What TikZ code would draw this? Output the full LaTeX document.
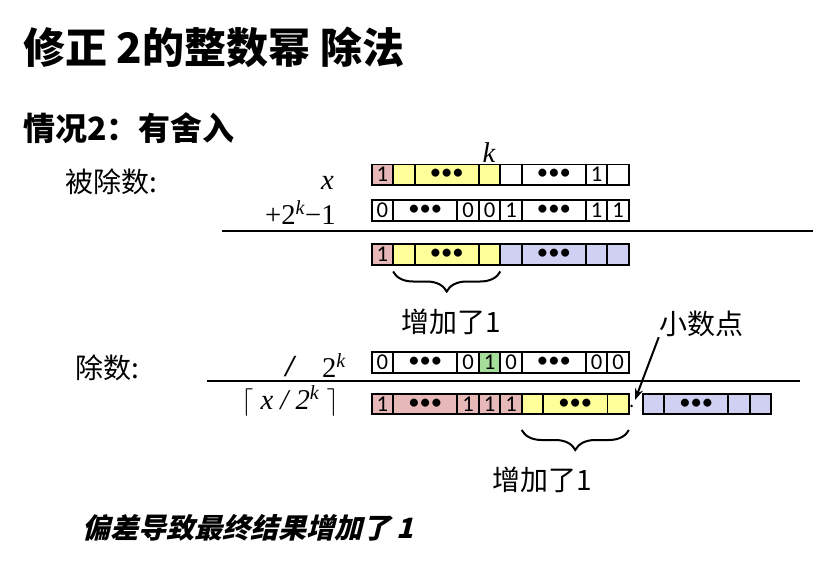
\documentclass[tikz,border=0pt]{standalone}
\usepackage{fontspec}
\usepackage{xcolor}
\usepackage{tikz}
\usetikzlibrary{arrows.meta}
\usetikzlibrary{decorations.pathreplacing}

\setmainfont{Noto Sans CJK SC}
\newfontfamily\tms{Liberation Serif}
\newfontfamily\cellfont{Carlito}
\newfontfamily\slantfont[BoldFeatures={FakeSlant=0.25}]{Noto Sans CJK SC}

\definecolor{cellpink}{RGB}{230,185,184}
\definecolor{cellyellow}{RGB}{255,255,153}
\definecolor{cellblue}{RGB}{208,208,242}
\definecolor{cellgreen}{RGB}{165,222,155}

\begin{document}
\begin{tikzpicture}[x=0.75pt,y=-0.75pt,>={Stealth[length=3mm,width=2.2mm]},
  cell/.style={draw,line width=1.4pt,inner sep=0pt,minimum height=15.4pt,minimum width=16.07pt,font=\cellfont\fontsize{17}{17}\selectfont},
  wide/.style={minimum width=48.2pt},
  lbl/.style={inner sep=0pt,font=\fontsize{21}{21}\selectfont},
  mth/.style={inner sep=0pt,font=\tms\fontsize{21.5}{21.5}\selectfont},
  rule/.style={line width=1.5pt},
  brc/.style={decorate,decoration={brace,mirror,amplitude=15pt},line width=1.5pt}]
  \useasboundingbox (0,0) rectangle (819,564);

  % headings
  \node[anchor=west,inner sep=0pt,font=\bfseries\fontsize{31.5}{31.5}\selectfont] (title) at (23,47) {修正 2的整数幂 除法};
  \node[anchor=west,inner sep=0pt,font=\bfseries\fontsize{24}{24}\selectfont] (case) at (23,128) {情况2：有舍入};

  % dividend
  \node[lbl,anchor=west] (dvd) at (65,182) {被除数:};
  \node[mth] (xx) at (327.5,183) {\itshape x};
  \node[mth,anchor=east] (addk) at (336,213) {+2\textsuperscript{\itshape k}−1};
  \node[mth] (kk) at (489,153) {\itshape k};

  \node[cell,fill=cellpink] (r1a) at (382.4,174.7) {1};
  \node[cell,fill=cellyellow] (r1b) at (403.9,174.7) {};
  \node[cell,wide,fill=cellyellow] (r1c) at (446.7,174.7) {•••};
  \node[cell,fill=cellyellow] (r1d) at (489.6,174.7) {};
  \node[cell] (r1e) at (511.0,174.7) {};
  \node[cell,wide] (r1f) at (553.9,174.7) {•••};
  \node[cell] (r1g) at (596.7,174.7) {1};
  \node[cell] (r1h) at (618.2,174.7) {};

  \node[cell] (r2a) at (382.4,210.5) {0};
  \node[cell,wide] (r2b) at (425.3,210.5) {•••};
  \node[cell] (r2c) at (468.1,210.5) {0};
  \node[cell] (r2d) at (489.6,210.5) {0};
  \node[cell] (r2e) at (511.0,210.5) {1};
  \node[cell,wide] (r2f) at (553.9,210.5) {•••};
  \node[cell] (r2g) at (596.7,210.5) {1};
  \node[cell] (r2h) at (618.2,210.5) {1};

  \draw[rule] (222,230.5) -- (813,230.5);

  \node[cell,fill=cellpink] (r3a) at (382.4,254.3) {1};
  \node[cell,fill=cellyellow] (r3b) at (403.9,254.3) {};
  \node[cell,wide,fill=cellyellow] (r3c) at (446.7,254.3) {•••};
  \node[cell,fill=cellyellow] (r3d) at (489.6,254.3) {};
  \node[cell,fill=cellblue] (r3e) at (511.0,254.3) {};
  \node[cell,wide,fill=cellblue] (r3f) at (553.9,254.3) {•••};
  \node[cell,fill=cellblue] (r3g) at (596.7,254.3) {};
  \node[cell,fill=cellblue] (r3h) at (618.2,254.3) {};

  \draw[brc] (393.1,271.5) -- (500.3,271.5);
  \node[lbl] (inc1) at (451,322) {增加了1};

  % divisor
  \node[lbl,anchor=west] (dvs) at (75,368) {除数:};
  \node[mth,font=\tms\bfseries\itshape\fontsize{23}{23}\selectfont] (slash) at (290,367) {/};
  \node[mth] (pk) at (334,366) {2\textsuperscript{\itshape k}};

  \node[cell] (r4a) at (382.4,362.5) {0};
  \node[cell,wide] (r4b) at (425.3,362.5) {•••};
  \node[cell] (r4c) at (468.1,362.5) {0};
  \node[cell,fill=cellgreen] (r4d) at (489.6,362.5) {1};
  \node[cell] (r4e) at (511.0,362.5) {0};
  \node[cell,wide] (r4f) at (553.9,362.5) {•••};
  \node[cell] (r4g) at (596.7,362.5) {0};
  \node[cell] (r4h) at (618.2,362.5) {0};

  \draw[rule] (207,380.5) -- (800,380.5);
  \node[mth] (ceil) at (290,401) {$\lceil$ \itshape x / 2\textsuperscript{k} $\rceil$};

  \node[cell,fill=cellpink] (r5a) at (382.4,404) {1};
  \node[cell,wide,fill=cellpink] (r5b) at (425.3,404) {•••};
  \node[cell,fill=cellpink] (r5c) at (468.1,404) {1};
  \node[cell,fill=cellpink] (r5d) at (489.6,404) {1};
  \node[cell,fill=cellpink] (r5e) at (511.0,404) {1};
  \node[cell,fill=cellyellow] (r5f) at (532.4,404) {};
  \node[cell,wide,fill=cellyellow] (r5g) at (575.3,404) {•••};
  \node[cell,fill=cellyellow] (r5h) at (618.2,404) {};
  \node[inner sep=0pt,font=\fontsize{14}{14}\selectfont] (pt) at (632,406) {.};
  \node[cell,fill=cellblue] (r5i) at (653.4,404) {};
  \node[cell,wide,fill=cellblue] (r5j) at (696.3,404) {•••};
  \node[cell,fill=cellblue] (r5k) at (739.1,404) {};
  \node[cell,fill=cellblue] (r5l) at (760.6,404) {};

  \draw[brc] (521.7,430) -- (628.9,430);
  \node[lbl] (inc2) at (542.5,480) {增加了1};

  \node[lbl] (xsd) at (701,324) {小数点};
  \coordinate (ptip) at (635,400);
  \draw[->,line width=1.5pt] (xsd.south west) -- (ptip);

  \node[anchor=west,inner sep=0pt,font=\slantfont\bfseries\fontsize{21}{21}\selectfont] (note) at (82,528) {偏差导致最终结果增加了 1};
\end{tikzpicture}
\end{document}
